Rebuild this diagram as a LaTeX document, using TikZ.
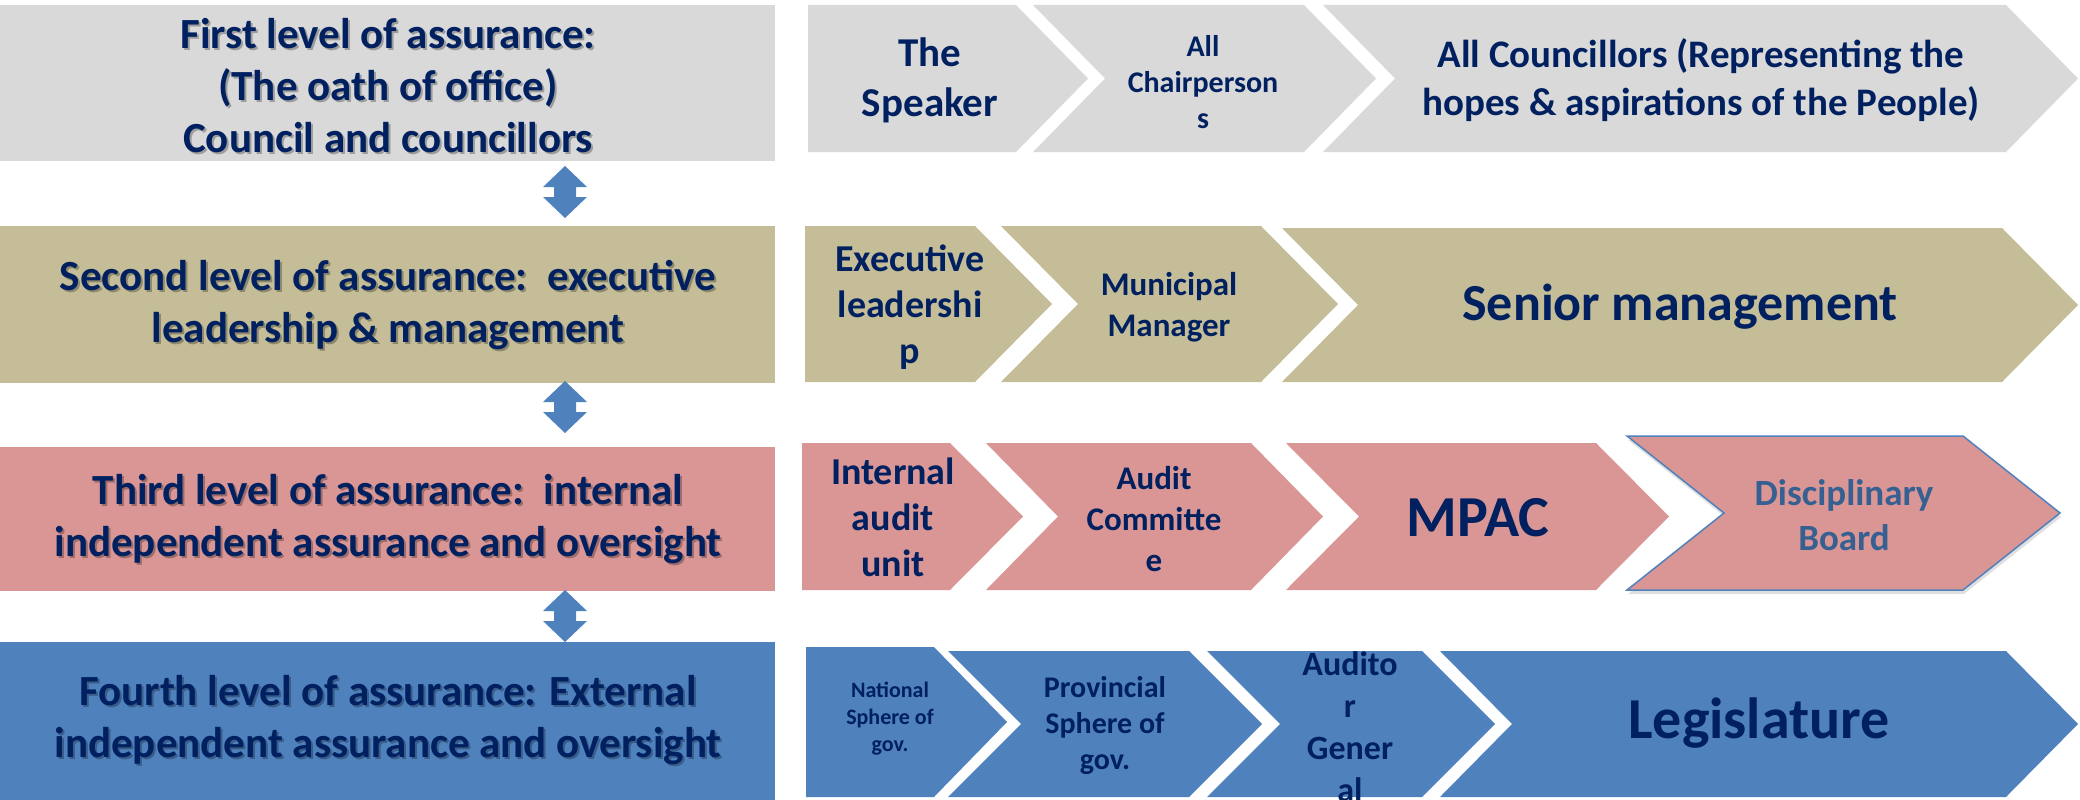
\documentclass[tikz,border=0pt]{standalone}
\usepackage{fontspec}
\setmainfont{Carlito}
\usetikzlibrary{shadows}

\definecolor{navy}{HTML}{002060}
\definecolor{greyfill}{HTML}{D9D9D9}
\definecolor{khaki}{HTML}{C4BD97}
\definecolor{rose}{HTML}{D99694}
\definecolor{steel}{HTML}{4F81BD}
\definecolor{boardtext}{HTML}{376092}

% chevron with a notched left side: style, left x, right x (top corners), top y, bottom y, point depth
\newcommand{\notchchev}[6]{%
  \path[#1] (#2,#4) -- (#3,#4) -- ({#3+#6},{(#4+#5)/2}) -- (#3,#5) -- (#2,#5)
    -- ({#2+#6},{(#4+#5)/2}) -- cycle;}
% first chevron of a row: flat left side
\newcommand{\flatchev}[6]{%
  \path[#1] (#2,#4) -- (#3,#4) -- ({#3+#6},{(#4+#5)/2}) -- (#3,#5) -- (#2,#5) -- cycle;}
% up-down block arrow between two levels, given its top y
\newcommand{\updown}[1]{%
  \fill[steel] (565,#1) -- (587,{#1+21}) -- (576,{#1+21}) -- (576,{#1+31}) -- (587,{#1+31})
    -- (565,{#1+52}) -- (543,{#1+31}) -- (554,{#1+31}) -- (554,{#1+21}) -- (543,{#1+21}) -- cycle;}
% level heading with its soft text shadow
\newcommand{\leveltext}[4]{%
  \node[lvlshade] at ({#2+2},{#3+2}) {#4};
  \node[lvllbl] (#1) at (#2,#3) {#4};}

\begin{document}
\begin{tikzpicture}[x=1pt,y=-1pt,
  lvlbox/.style={draw=none, minimum width=775pt, inner sep=0pt, outer sep=0pt, anchor=north west},
  fs/.style 2 args={font=\bfseries\fontsize{#1}{#2}\selectfont},
  lbl/.style={text=navy, align=center, inner sep=0pt},
  lvllbl/.style={lbl, fs={43}{52}},
  lvlshade/.style={lvllbl, text=black, text opacity=0.28},
]
\useasboundingbox (0,0) rectangle (2080,800);

% level boxes on the left
\node[lvlbox, fill=greyfill, minimum height=156pt] (L1) at (0,5) {};
\node[lvlbox, fill=khaki, minimum height=157pt] (L2) at (0,226) {};
\node[lvlbox, fill=rose, minimum height=144pt] (L3) at (0,447) {};
\node[lvlbox, fill=steel, minimum height=158pt] (L4) at (0,642) {};

\leveltext{L1t}{388}{86}{First level of assurance:\\(The oath of office)\\Council and councillors}
\leveltext{L2t}{388}{305}{Second level of assurance:\ \ executive\\leadership \& management}
\leveltext{L3t}{388}{519}{Third level of assurance:\ \ internal\\independent assurance and oversight}
\leveltext{L4t}{388}{720}{Fourth level of assurance: External\\independent assurance and oversight}

% arrows linking the levels
\updown{166}
\updown{381}
\updown{590}

% first level chain
\flatchev{fill=greyfill}{808}{1016}{5}{152}{72}
\notchchev{fill=greyfill}{1033}{1304}{5}{152}{72}
\notchchev{fill=greyfill}{1323}{2006}{5}{152}{72}
\node[lbl, fs={41}{50}] (speaker) at (930,80) {The\\Speaker};
\node[lbl, fs={30}{36}] (chairs) at (1203,82) {All\\Chairperson\\s};
\node[lbl, fs={39}{48}] (councillors) at (1701,80) {All Councillors (Representing the\\hopes \& aspirations of the People)};

% second level chain
\flatchev{fill=khaki}{805}{975}{226}{382}{77}
\notchchev{fill=khaki}{1001}{1261}{226}{382}{77}
\notchchev{fill=khaki}{1282}{2002}{228}{382}{76}
\node[lbl, fs={38}{46}] (exec) at (910,307) {Executive\\leadershi\\p};
\node[lbl, fs={33}{41}] (mm) at (1169,307) {Municipal\\Manager};
\node[lbl, fs={52}{62}] (senior) at (1680,307) {Senior management};

% third level chain
\flatchev{fill=rose}{802}{950}{443}{590}{73}
\notchchev{fill=rose}{986}{1251}{443}{590}{72}
\notchchev{fill=rose}{1286}{1596}{443}{590}{73}
\notchchev{fill=rose, draw=steel, line width=1.5pt,
  drop shadow={opacity=0.25, shadow xshift=1pt, shadow yshift=-4pt}}{1627}{1963}{436}{590}{97}
\node[lbl, fs={38}{46}] (iau) at (893,517) {Internal\\audit\\unit};
\node[lbl, fs={33}{41}] (ac) at (1154,519) {Audit\\Committe\\e};
\node[lbl, fs={58}{70}] (mpac) at (1478,518) {MPAC};
\node[lbl, fs={37}{45}, text=boardtext] (board) at (1844,515) {Disciplinary\\Board};

% fourth level chain
\flatchev{fill=steel}{806}{934}{647}{797}{73}
\notchchev{fill=steel}{948}{1189}{651}{797}{73}
\notchchev{fill=steel}{1207}{1422}{651}{797}{73}
\notchchev{fill=steel}{1440}{2006}{651}{797}{72}
\node[lbl, fs={22}{27}] (national) at (890,719) {National\\Sphere of\\gov.};
\node[lbl, fs={30}{36}] (provincial) at (1105,726) {Provincial\\Sphere of\\gov.};
\node[lbl, fs={34}{42}] (ag) at (1350,727) {Audito\\r\\Gener\\al};
\node[lbl, fs={58}{70}] (legislature) at (1759,723) {Legislature};
\end{tikzpicture}
\end{document}
